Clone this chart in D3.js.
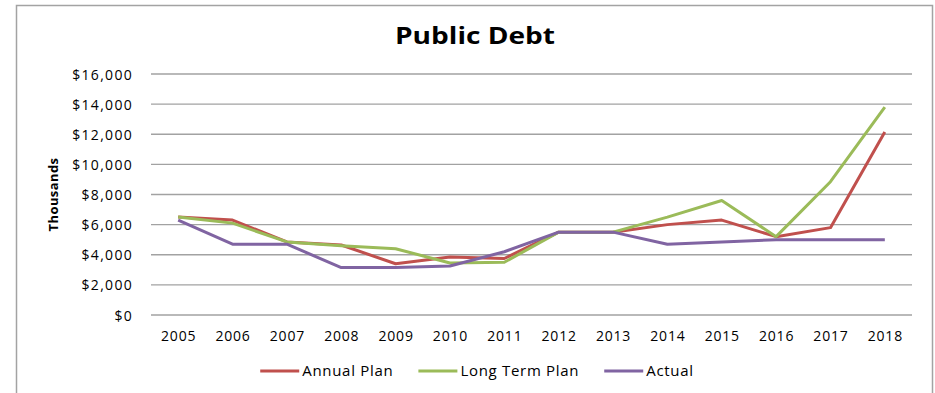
<!DOCTYPE html>
<html>
<head>
<meta charset="utf-8">
<script src="https://cdn.jsdelivr.net/npm/d3@7"></script>
<style>
  html, body { margin: 0; padding: 0; background: #fff; }
  svg { display: block; }
  text { font-family: "Open Sans", sans-serif; fill: #000; }
</style>
</head>
<body>
<svg id="chart" width="935" height="393"></svg>
<script>
// Public debt, in thousands of dollars
const years = ["2005","2006","2007","2008","2009","2010","2011","2012","2013","2014","2015","2016","2017","2018"];
const annualPlan   = [6500, 6300, 4850, 4650, 3400, 3850, 3750, 5500, 5500, 6000, 6300, 5200, 5800, 12150];
const longTermPlan = [6500, 6100, 4850, 4600, 4400, 3450, 3500, 5500, 5500, 6500, 7600, 5200, 8850, 13800];
const actual       = [6300, 4700, 4700, 3150, 3150, 3250, 4200, 5500, 5500, 4700, 4850, 5000, 5000, 5000];
const yTicks = [0, 2000, 4000, 6000, 8000, 10000, 12000, 14000, 16000];

const seriesNames  = ["Annual Plan", "Long Term Plan", "Actual"];
const seriesValues = [annualPlan, longTermPlan, actual];
const seriesColors = ["#C0504D", "#9BBB59", "#8064A2"];

const svg = d3.select("#chart");

// outer frame
svg.append("path")
  .attr("d", "M16.5,400 V5.5 H932.5 V400")
  .attr("fill", "none")
  .attr("stroke", "#a3a3a3")
  .attr("stroke-width", 1.5);

const plot = { left: 151, right: 912, top: 74, bottom: 315 };

const x = d3.scalePoint().domain(years).range([plot.left, plot.right]).padding(0.5);
const y = d3.scaleLinear().domain([0, 16000]).range([plot.bottom, plot.top]);

// title (slightly widened)
svg.append("text")
  .attr("transform", "translate(475,44) scale(1.17,1)")
  .attr("text-anchor", "middle")
  .style("font-size", "24px").style("font-weight", "bold")
  .text("Public Debt");

// horizontal gridlines
svg.append("g")
  .selectAll("line")
  .data(yTicks)
  .join("line")
  .attr("x1", plot.left).attr("x2", plot.right)
  .attr("y1", d => y(d)).attr("y2", d => y(d))
  .attr("stroke", "#a2a2a2")
  .attr("stroke-width", 1.3);

// y axis labels
const fmt = d3.format("$,");
const yAxis = d3.axisLeft(y).tickValues(yTicks).tickFormat(d => fmt(d)).tickSize(0).tickPadding(0);
const gy = svg.append("g").attr("transform", "translate(133,0)").call(yAxis);
gy.select(".domain").remove();
gy.selectAll("text").style("font-size", "14px").style("font-family", "'Open Sans', sans-serif")
  .style("letter-spacing", "1.3px").attr("dy", "0.36em");

// x axis labels
const xAxis = d3.axisBottom(x).tickSize(0).tickPadding(0);
const gx = svg.append("g").attr("transform", "translate(0,331)").call(xAxis);
gx.select(".domain").remove();
gx.selectAll("text").style("font-size", "14px").style("font-family", "'Open Sans', sans-serif")
  .style("letter-spacing", "0.8px").attr("dy", "0.72em");

// y axis title
svg.append("text")
  .attr("transform", `translate(58,${(plot.top + plot.bottom) / 2}) rotate(-90)`)
  .attr("text-anchor", "middle")
  .style("font-size", "13px").style("font-weight", "bold")
  .style("letter-spacing", "0.4px")
  .text("Thousands");

// series lines
const line = d3.line().x((d, i) => x(years[i])).y(d => y(d));
svg.append("g")
  .selectAll("path")
  .data(seriesValues)
  .join("path")
  .attr("d", d => line(d))
  .attr("fill", "none")
  .attr("stroke", (d, i) => seriesColors[i])
  .attr("stroke-width", 3)
  .attr("stroke-linejoin", "round");

// legend
const legend = svg.append("g");
const items = legend.selectAll("g").data(seriesNames).join("g");
items.append("line")
  .attr("x1", 0).attr("x2", 39).attr("y1", 0).attr("y2", 0)
  .attr("stroke", (d, i) => seriesColors[i])
  .attr("stroke-width", 3);
items.append("text")
  .attr("x", 42).attr("dy", "0.36em")
  .style("font-size", "15px")
  .style("letter-spacing", "0.7px")
  .text(d => d);
let cursor = 0;
items.each(function () {
  const w = this.getBBox().width;
  d3.select(this).attr("transform", `translate(${cursor},0)`);
  cursor += w + 25;
});
const legendWidth = cursor - 25;
legend.attr("transform", `translate(${477 - legendWidth / 2},371)`);
</script>
</body>
</html>
